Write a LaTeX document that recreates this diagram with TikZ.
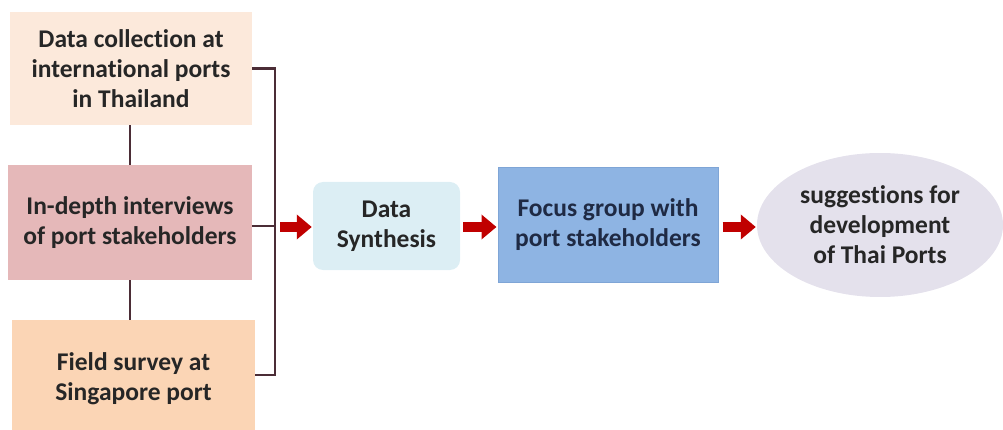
\documentclass[tikz,border=0pt]{standalone}
\usepackage{fontspec}
\setmainfont{Carlito}[RawFeature={-liga;-calt;-dlig;-clig}]
\usetikzlibrary{arrows.meta,shapes.geometric}
\definecolor{boxA}{HTML}{FCE9DB}
\definecolor{boxB}{HTML}{E5B8B9}
\definecolor{boxC}{HTML}{FBD5B5}
\definecolor{synth}{HTML}{DCEEF4}
\definecolor{focus}{HTML}{8EB4E3}
\definecolor{focusline}{HTML}{7FA5D6}
\definecolor{focustxt}{HTML}{1F2A44}
\definecolor{ell}{HTML}{E4E1EC}
\definecolor{conn}{HTML}{4B2D36}
\definecolor{arr}{HTML}{C00000}
\definecolor{txt}{HTML}{262626}
\tikzset{
  lbl/.style={font=\fontsize{25.5}{30}\selectfont\bfseries, text=txt, align=center, inner sep=0pt},
  srcbox/.style={lbl, minimum width=242pt},
  conline/.style={draw=conn, line width=2.2pt},
  bigarrow/.style={draw=arr, line width=10pt, -{Triangle[width=24pt,length=15pt]}, shorten >=1pt}
}
\begin{document}
\begin{tikzpicture}[x=1pt,y=-1pt]
\useasboundingbox (0,0) rectangle (1003,430);
\node[srcbox, fill=boxA, minimum height=113pt] (b1) at (131,68.5) {Data collection at\\international ports\\in Thailand};
\node[srcbox, fill=boxB, minimum height=115pt, minimum width=244pt] (b2) at (130,222.5) {In-depth interviews\\of port stakeholders};
\node[srcbox, fill=boxC, minimum height=110pt, minimum width=243pt] (b3) at (133.5,375) {};
\node[lbl] (b3t) at (133.5,379) {Field survey at\\Singapore port};
\draw[conline] (b1.south -| 130,0) -- (b2.north -| 130,0);
\draw[conline] (b2.south -| 130,0) -- (b3.north -| 130,0);
\coordinate (j) at (275,226);
\draw[conline] (b1.east) -| (j |- b3.east) -- (b3.east);
\draw[conline] (b2.east |- j) -- (j);
\node[lbl, fill=synth, rounded corners=10pt, minimum width=147pt, minimum height=88pt] (ds) at (386.5,226) {Data\\Synthesis};
\node[lbl, fill=focus, draw=focusline, line width=1pt, minimum width=220pt, minimum height=114pt, text=focustxt] (fg) at (608,225) {Focus group with\\port stakeholders};
\node[lbl, ellipse, fill=ell, minimum width=246pt, minimum height=144pt] (sg) at (880,225) {suggestions for\\development\\of Thai Ports};
\draw[bigarrow] (280,227) -- (ds.west |- 0,227);
\draw[bigarrow] (ds.east |- 0,227) ++(3,0) -- (fg.west |- 0,227);
\draw[bigarrow] (fg.east |- 0,227) ++(4,0) -- (sg.west |- 0,227);
\end{tikzpicture}
\end{document}
